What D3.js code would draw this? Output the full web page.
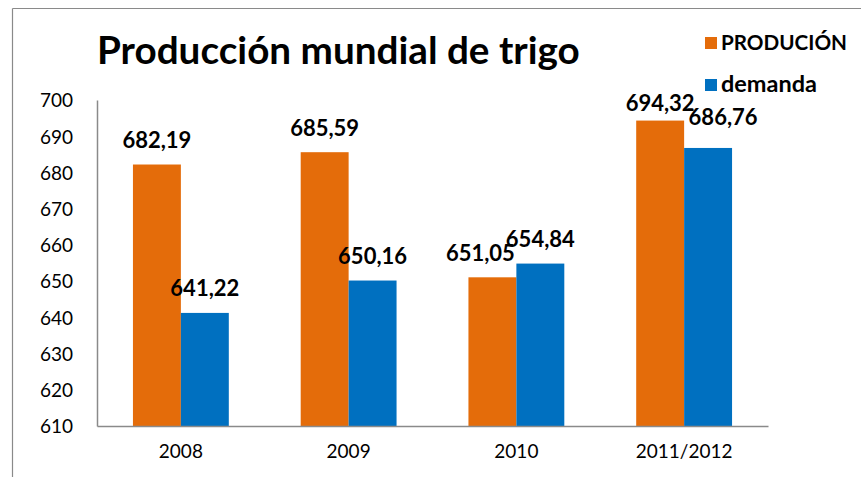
<!DOCTYPE html>
<html>
<head>
<meta charset="utf-8">
<script src="https://cdn.jsdelivr.net/npm/d3@7"></script>
<style>
  html, body { margin: 0; padding: 0; background: #fff; }
  svg { display: block; font-family: Lato, "Open Sans", sans-serif; }
</style>
</head>
<body>
<svg id="chart" width="861" height="477"></svg>
<script>
const categories = ["2008", "2009", "2010", "2011/2012"];
const seriesNames = ["PRODUCIÓN", "demanda"];
const produccion = [682.19, 685.59, 651.05, 694.32];
const demanda = [641.22, 650.16, 654.84, 686.76];
const yTicks = [610, 620, 630, 640, 650, 660, 670, 680, 690, 700];
const colors = ["#E46C0A", "#0070C0"];
const title = "Producción mundial de trigo";

const svg = d3.select("#chart");

function fmt(v) { return v.toFixed(2).replace(".", ","); }
function fitWidth(sel, target) {
  const node = sel.node();
  const fs = parseFloat(sel.attr("font-size"));
  const w = node.getComputedTextLength();
  if (w > 0) sel.attr("font-size", (fs * target / w).toFixed(2));
}

// outer chart border (top and left visible)
svg.append("line").attr("x1", 12.5).attr("y1", 8.5).attr("x2", 861).attr("y2", 8.5)
  .attr("stroke", "#8a8a8a").attr("stroke-width", 1.2);
svg.append("line").attr("x1", 12.5).attr("y1", 8.5).attr("x2", 12.5).attr("y2", 477)
  .attr("stroke", "#8a8a8a").attr("stroke-width", 1.2);

const plot = { left: 97, right: 768, top: 100, bottom: 426 };

const x = d3.scaleBand().domain(categories).range([plot.left, plot.right]).paddingInner(0).paddingOuter(0);
const bw = x.bandwidth() / 3.5;
const xs = d3.scaleBand().domain(seriesNames).range([bw * 0.75, bw * 2.75]);
const y = d3.scaleLinear().domain([610, 700]).range([plot.bottom, plot.top]);

const data = categories.map((c, i) => ({ cat: c, vals: [produccion[i], demanda[i]] }));

// bars
const groups = svg.append("g").selectAll("g").data(data).join("g")
  .attr("transform", d => `translate(${x(d.cat)},0)`);
groups.selectAll("rect").data(d => d.vals.map((v, j) => ({ v, s: seriesNames[j], j })))
  .join("rect")
  .attr("x", d => xs(d.s))
  .attr("width", xs.bandwidth())
  .attr("y", d => y(d.v))
  .attr("height", d => plot.bottom - y(d.v))
  .attr("fill", d => colors[d.j]);

// axes
const yAxis = d3.axisLeft(y).tickValues(yTicks).tickSize(0).tickPadding(24);
const gy = svg.append("g").attr("transform", `translate(${plot.left},0)`).call(yAxis);
gy.select(".domain").attr("stroke", "#8a8a8a").attr("stroke-width", 1.5);
gy.selectAll("text").attr("font-size", 19).attr("fill", "#000")
  .attr("font-family", "Lato, sans-serif").attr("dy", "0.36em");

const xAxis = d3.axisBottom(x).tickSize(0).tickPadding(19);
const gx = svg.append("g").attr("transform", `translate(0,${plot.bottom})`).call(xAxis);
gx.select(".domain").attr("stroke", "#8a8a8a").attr("stroke-width", 1.5);
gx.selectAll("text").attr("font-size", 19).attr("fill", "#000")
  .attr("font-family", "Lato, sans-serif");

// data labels (with small overlap adjustments like the original)
const adjust = { "2010|0": [-12, 0], "2011/2012|0": [0, 7], "2011/2012|1": [15, -6] };
groups.selectAll("text.lbl").data(d => d.vals.map((v, j) => ({ v, s: seriesNames[j], j, cat: d.cat })))
  .join("text").attr("class", "lbl")
  .attr("x", d => xs(d.s) + xs.bandwidth() / 2 + (adjust[d.cat + "|" + d.j] || [0, 0])[0])
  .attr("y", d => y(d.v) - 16.5 + (adjust[d.cat + "|" + d.j] || [0, 0])[1])
  .attr("text-anchor", "middle")
  .attr("font-size", 22).attr("font-weight", "bold").attr("fill", "#000")
  .text(d => fmt(d.v));

// title
const t = svg.append("text").attr("x", 97).attr("y", 64)
  .attr("font-size", 34).attr("font-weight", "bold").attr("fill", "#000").text(title);
fitWidth(t, 483);

// legend
const legendY = [37, 79];
const legendW = [126, 96];
seriesNames.forEach((s, i) => {
  svg.append("rect").attr("x", 705).attr("y", legendY[i]).attr("width", 12).attr("height", 12)
    .attr("fill", colors[i]);
  const lt = svg.append("text").attr("x", 721).attr("y", legendY[i] + 12.5)
    .attr("font-size", 17).attr("font-weight", "bold").attr("fill", "#000").text(s);
  fitWidth(lt, legendW[i]);
});
</script>
</body>
</html>
